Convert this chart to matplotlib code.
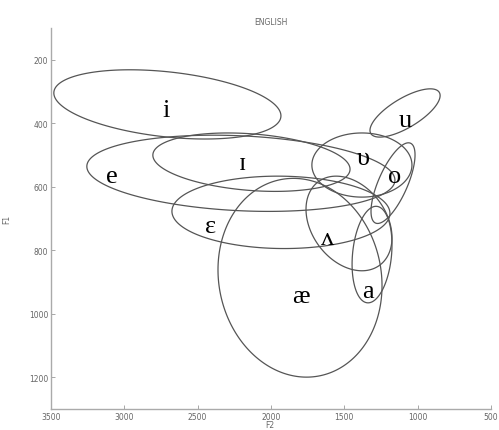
import numpy as np
import matplotlib
matplotlib.use("Agg")
import matplotlib.pyplot as plt

# Vowel ellipses: centre F2, centre F1, half-extent F2, half-extent F1, correlation
vowels = ["i", "e", "ɪ", "ɛ", "æ", "ʌ", "a", "υ", "o", "u"]
f2_center = [2706, 2205, 2133, 1932, 1802, 1468, 1311, 1380, 1168, 1086]
f1_center = [341, 558, 523, 681, 887, 716, 814, 532, 589, 368]
f2_spread = [774, 1050, 672, 743, 559, 293, 136, 341, 150, 239]
f1_spread = [109, 120, 92, 114, 313, 149, 152, 101, 127, 76]
corr = [-0.33, -0.18, -0.24, -0.03, -0.08, -0.3, 0.2, 0.0, 0.7, 0.72]

label_f2 = [2716, 3084, 2191, 2409, 1796, 1611, 1339, 1373, 1155, 1086]
label_f1 = [358, 567, 526, 725, 944, 763, 928, 510, 567, 390]

x_ticks = [3500, 3000, 2500, 2000, 1500, 1000, 500]
y_ticks = [200, 400, 600, 800, 1000, 1200]

fig = plt.figure(figsize=(4.99, 4.31), dpi=100)
ax = fig.add_axes([0.102, 0.049, 0.882, 0.884])

t = np.linspace(0, 2 * np.pi, 300, endpoint=False)
for cx, cy, sx, sy, r in zip(f2_center, f1_center, f2_spread, f1_spread, corr):
    x = cx + sx * np.cos(t)
    y = cy + sy * (r * np.cos(t) + np.sqrt(1 - r * r) * np.sin(t))
    ax.fill(x, y, facecolor="none", edgecolor="#555555", lw=0.9)

for v, lx, ly in zip(vowels, label_f2, label_f1):
    ax.text(lx, ly, v, ha="center", va="center", fontsize=19,
            family=["Liberation Serif", "DejaVu Serif"], color="black")

ax.set_xlim(3500, 500)
ax.set_ylim(1300, 100)
ax.set_xticks(x_ticks)
ax.set_yticks(y_ticks)
ax.set_xticklabels([str(v) for v in x_ticks])
ax.set_yticklabels([str(v) for v in y_ticks])
ax.tick_params(direction="in", length=3, width=0.6, colors="#999999",
               labelsize=5.5, labelcolor="#666666", pad=2)
for s in ["top", "right"]:
    ax.spines[s].set_visible(False)
for s in ["left", "bottom"]:
    ax.spines[s].set_color("#aaaaaa")
    ax.spines[s].set_linewidth(1.0)

ax.set_xlabel("F2", fontsize=5.5, color="#666666")
ax.xaxis.set_label_coords(0.497, -0.028)
ax.set_ylabel("F1", fontsize=5.5, color="#666666")
ax.yaxis.set_label_coords(-0.09, 0.5)
ax.set_title("ENGLISH", fontsize=5.5, color="#666666", pad=3)

fig.savefig("out.png", dpi=100)
